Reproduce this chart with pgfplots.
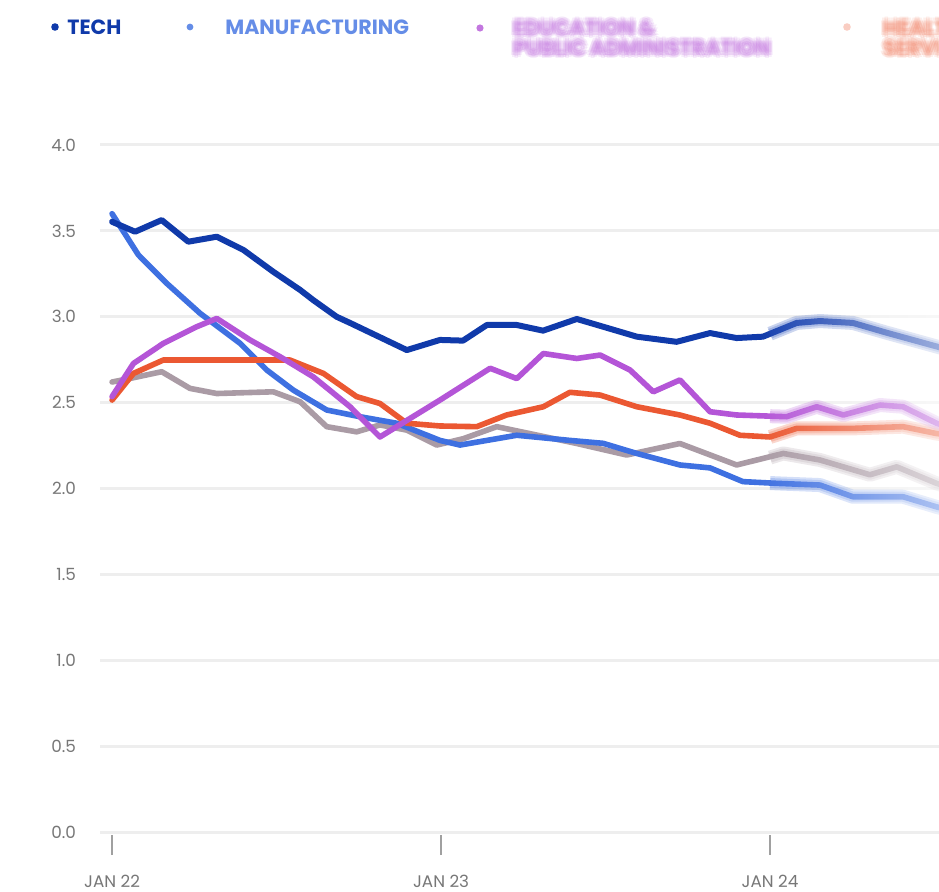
\documentclass[border=0pt]{standalone}
\usepackage{pgfplots}
\pgfplotsset{compat=1.18}
\usetikzlibrary{fadings}
\usepackage{fontspec}
\setmainfont{Poppins}

\definecolor{techc}{HTML}{103AAA}
\definecolor{manuc}{HTML}{3E70E1}
\definecolor{educ}{HTML}{B455D7}
\definecolor{orangec}{HTML}{EB5832}
\definecolor{grayc}{HTML}{AA9BA5}
\definecolor{gridc}{HTML}{EEEEEE}
\definecolor{labelc}{HTML}{777777}

\newcommand{\legfont}{\bfseries\fontsize{10.3}{12}\selectfont}

% soft (blurred) copy of a node
\newcommand{\softnode}[4]{% color, position, anchor, text
  \foreach \dx/\dy in {-1.8/0,1.8/0,0/-1.8,0/1.8,-1.3/-1.3,1.3/1.3,-1.3/1.3,1.3/-1.3,
                       -0.8/0,0.8/0,0/-0.8,0/0.8}{%
    \node[text=#1, opacity=0.15, anchor=#3, inner sep=0pt, font=\legfont]
      at ([xshift=\dx pt, yshift=\dy pt]#2) {#4};}%
}

\pgfplotsset{
  soft/.style={line width=#1, opacity=0.25, line cap=butt, restrict x to domain=23.9:31},
}

\begin{document}
\begin{tikzpicture}
\path[use as bounding box] (0,0) rectangle (469.5pt,445.5pt);
\clip (0,0) rectangle (469.5pt,445.5pt);

% legend
\fill[techc] (27.5pt,432pt) circle (1.9pt);
\node[anchor=west, inner sep=0pt, text=techc, font=\legfont] at (33.5pt,432pt) {TECH};
\fill[manuc!80!white] (95pt,432pt) circle (1.7pt);
\node[anchor=west, inner sep=0pt, text=manuc!80!white, font=\legfont] at (112.5pt,432pt) {MANUFACTURING};
\fill[educ!80!white] (240pt,431.5pt) circle (1.8pt);
\softnode{educ!75!white}{256.5pt,431.5pt}{west}{EDUCATION \&}
\softnode{educ!75!white}{256.5pt,421.5pt}{west}{PUBLIC ADMINISTRATION}
\fill[orangec!30!white] (423.5pt,432pt) circle (1.9pt);
\softnode{orangec!65!white}{441.5pt,431.5pt}{west}{HEALTH}
\softnode{orangec!65!white}{441.5pt,421.5pt}{west}{SERVICES}

\begin{axis}[
  at={(50pt,29.5pt)}, anchor=south west,
  scale only axis, width=419.5pt, height=343.5pt,
  xmin=-0.44, xmax=30.16, ymin=0, ymax=4,
  axis line style={draw=none},
  ymajorgrids, major grid style={draw=gridc, line width=1.5pt},
  ytick={0,0.5,1,1.5,2,2.5,3,3.5,4},
  yticklabels={0.0,0.5,1.0,1.5,2.0,2.5,3.0,3.5,4.0},
  ytick style={draw=none},
  yticklabel style={text=labelc, font=\fontsize{8.4}{10}\selectfont, xshift=1.5pt},
  xtick={0,12,24},
  xticklabels={JAN 22,JAN 23,JAN 24},
  xtick pos=bottom, tick align=outside, major tick length=10pt,
  xtick style={draw=labelc!70, line width=0.8pt, yshift=-1.5pt},
  xticklabel style={text=labelc, font=\fontsize{8.4}{10}\selectfont, yshift=-8pt},
  clip=true,
  every axis plot/.append style={line join=round, line cap=round},
]
\addplot[grayc, line width=2.8pt] coordinates {
(0,2.62)(0.78,2.645)(1.81,2.68)(2.84,2.583)(3.82,2.553)(5.88,2.563)(6.86,2.505)
(7.83,2.36)(8.92,2.33)(9.77,2.37)(10.75,2.34)(11.84,2.253)(12.81,2.29)(14.03,2.36)
(16.95,2.262)(18.77,2.195)(20.71,2.262)(22.78,2.137)(24.48,2.204)(25.82,2.166)
(27.64,2.08)(28.62,2.126)(30.07,2.03)(30.9,1.99)};
\addplot[manuc, line width=2.8pt] coordinates {
(0,3.60)(0.96,3.36)(1.99,3.195)(3.21,3.02)(4.67,2.845)(5.64,2.69)(6.61,2.573)
(7.83,2.457)(9.04,2.418)(10.38,2.38)(11.96,2.28)(12.69,2.253)(13.67,2.28)(14.76,2.31)
(16.70,2.28)(17.91,2.263)(19.14,2.204)(20.71,2.137)(21.81,2.12)(23.01,2.04)(24.24,2.03)
(25.82,2.02)(27.02,1.952)(28.85,1.952)(30.07,1.893)(30.9,1.86)};
\addplot[orangec, line width=2.8pt] coordinates {
(0,2.515)(0.78,2.67)(1.87,2.748)(6.49,2.748)(7.71,2.67)(8.92,2.535)(9.77,2.495)
(10.75,2.38)(11.96,2.364)(13.30,2.36)(14.39,2.428)(15.73,2.476)(16.70,2.56)(17.80,2.544)
(19.14,2.476)(20.71,2.428)(21.81,2.38)(22.90,2.31)(24.0,2.30)(24.97,2.35)(27.02,2.35)
(28.85,2.36)(30.07,2.32)(30.9,2.305)};
\addplot[educ, line width=2.8pt] coordinates {
(0,2.535)(0.78,2.728)(1.87,2.845)(3.09,2.942)(3.82,2.99)(5.03,2.865)(6.13,2.767)
(7.34,2.65)(8.68,2.476)(9.77,2.30)(10.38,2.36)(11.96,2.515)(13.79,2.70)(14.76,2.64)
(15.73,2.786)(16.95,2.757)(17.80,2.777)(18.89,2.69)(19.74,2.563)(20.71,2.632)(21.81,2.447)
(22.78,2.428)(24.60,2.418)(25.70,2.476)(26.67,2.428)(28.01,2.486)(28.85,2.476)(30.07,2.38)(30.9,2.34)};
\addplot[techc, line width=3.0pt] coordinates {
(0,3.553)(0.84,3.495)(1.81,3.563)(2.78,3.437)(3.82,3.466)(4.79,3.389)(5.88,3.262)
(6.86,3.156)(7.33,3.098)(8.19,3.0)(8.68,2.964)(10.75,2.806)(11.96,2.865)(12.80,2.861)
(13.67,2.952)(14.76,2.952)(15.72,2.919)(16.95,2.987)(17.91,2.942)(19.14,2.884)(20.59,2.854)
(21.81,2.905)(22.78,2.876)(23.74,2.884)(24.97,2.964)(25.82,2.975)(27.02,2.964)(28.25,2.907)
(30.07,2.827)(30.9,2.79)};

% soft halo of each series towards the right edge
\pgfplotsinvokeforeach{7pt,5pt}{
\addplot[grayc, soft=#1] coordinates {
(24.0,2.18)(24.48,2.204)(25.82,2.166)(27.64,2.08)(28.62,2.126)(30.07,2.03)(30.9,1.99)};
\addplot[manuc, soft=#1] coordinates {
(24.0,2.032)(24.24,2.03)(25.82,2.02)(27.02,1.952)(28.85,1.952)(30.07,1.893)(30.9,1.86)};
\addplot[orangec, soft=#1] coordinates {
(24.0,2.30)(24.97,2.35)(27.02,2.35)(28.85,2.36)(30.07,2.32)(30.9,2.305)};
\addplot[educ, soft=#1] coordinates {
(24.0,2.421)(24.60,2.418)(25.70,2.476)(26.67,2.428)(28.01,2.486)(28.85,2.476)(30.07,2.38)(30.9,2.34)};
\addplot[techc!75!manuc, soft=#1] coordinates {
(24.0,2.901)(24.97,2.964)(25.82,2.975)(27.02,2.964)(28.25,2.907)(30.07,2.827)(30.9,2.79)};
}
% right edge fades out
\fill[white, fill opacity=0.6, path fading=west]
  (axis cs:23.6,1.6) rectangle (axis cs:30.5,3.3);
\end{axis}
\end{tikzpicture}
\end{document}
